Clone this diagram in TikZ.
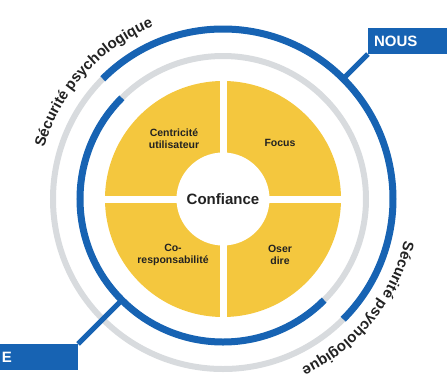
\documentclass[tikz,border=0pt]{standalone}
\usepackage{fontspec}
\setmainfont{Liberation Sans}
\usetikzlibrary{decorations.text}

\definecolor{ringblue}{HTML}{1763B3}
\definecolor{ringgray}{HTML}{D8DBDE}
\definecolor{petal}{HTML}{F4C73E}
\definecolor{ink}{HTML}{222222}

\tikzset{
  petal label/.style = {
    align         = center,      % two-line labels
    inner sep     = 0pt,         % no padding
    font          = \bfseries\fontsize{10.5}{12}\selectfont,
    text          = ink,         % label color
  },
  tag box/.style = {
    rectangle,
    fill          = ringblue,    % box color
    minimum height= 26pt,        % box height
    inner xsep    = 6pt,         % sep b/w border and text
    text width    = 70pt,        % runs past the page edge
    align         = left,
    font          = \bfseries\fontsize{15}{15}\selectfont,
    text          = white,
  },
  blue ring/.style = {draw = ringblue, line width = 7pt},
  gray ring/.style = {draw = ringgray, line width = 6pt},
  arc label/.style = {
    decorate,
    decoration = {
      text along path,
      text align = center,
      text color = ink,
      text       = {|\bfseries\fontsize{15}{15}\selectfont|Sécurité psychologique},
    },
  },
}

\begin{document}
\begin{tikzpicture}[x=1pt, y=1pt]
\useasboundingbox (-223,-177) rectangle (224,199);

% rings
\draw[gray ring] (0,0) circle [radius=143];
\draw[gray ring] (0,0) circle [radius=170];
\draw[blue ring] (135:170) arc [start angle=135, end angle=-45, radius=170];
\draw[blue ring] (135:143) arc [start angle=135, end angle=315, radius=143];

% petals
\fill[petal] (0,0) circle [radius=118];
\draw[white, line width=7pt] (-121,0) -- (121,0) (0,-121) -- (0,121);
\fill[white] (0,0) circle [radius=46.5];

\node at (0, 0) [
  font          = \bfseries\fontsize{15}{18}\selectfont,
  text          = ink,
  ]
  (confiance)
  {Confiance} ;

\node[petal label] (centricite) at (-49, 60) {Centricité\\utilisateur};
\node[petal label] (focus)      at ( 57, 56) {Focus};
\node[petal label] (coresp)     at (-50,-56) {Co-\\responsabilité};
\node[petal label] (oser)       at ( 57,-56) {Oser\\dire};

% tags
\coordinate (nousring)   at (45:170);
\coordinate (equipering) at (225:143);
\node[tag box, anchor=south west] (nous)   at (45:205)  {NOUS};
\node[tag box, anchor=north east] (equipe) at (225:205) {E};
\draw[ringblue, line width=5pt] (nousring)   -- (nous.south west);
\draw[ringblue, line width=5pt] (equipering) -- (equipe.north east);

% arc texts
\path[arc label] (173:186) arc [start angle=173, end angle=103, radius=186];
\path[arc label] (-4:186)  arc [start angle=-4,  end angle=-74, radius=186];
\end{tikzpicture}
\end{document}
